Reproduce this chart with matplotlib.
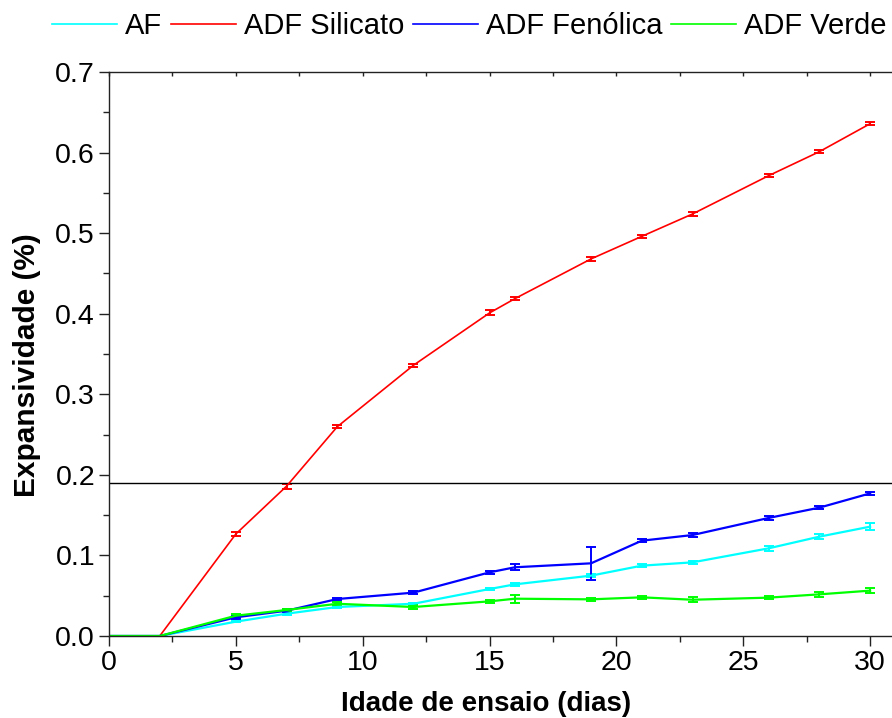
import matplotlib
matplotlib.use("Agg")
import matplotlib.pyplot as plt
from matplotlib.ticker import MultipleLocator
from matplotlib.lines import Line2D

plt.rcParams['font.family'] = ['Liberation Sans', 'DejaVu Sans']

dias = [0, 2, 5, 7, 9, 12, 15, 16, 19, 21, 23, 26, 28, 30]

af = [0, 0, 0.0178, 0.0277, 0.036, 0.040, 0.0583, 0.0641, 0.0749, 0.0873, 0.0914, 0.1088, 0.1233, 0.1357]
af_err = [0, 0, 0.001, 0.0015, 0.0015, 0.0015, 0.0015, 0.0015, 0.002, 0.0015, 0.002, 0.003, 0.003, 0.004]

silicato = [0, 0, 0.1266, 0.186, 0.2598, 0.336, 0.401, 0.4187, 0.468, 0.496, 0.5238, 0.5713, 0.6011, 0.6358]
silicato_err = [0, 0, 0.002, 0.003, 0.002, 0.002, 0.003, 0.002, 0.002, 0.002, 0.002, 0.002, 0.002, 0.002]

fenolica = [0, 0, 0.0232, 0.0314, 0.0459, 0.0538, 0.079, 0.0853, 0.0902, 0.1183, 0.1253, 0.1465, 0.1593, 0.177]
fenolica_err = [0, 0, 0.0015, 0.0015, 0.0015, 0.0015, 0.0015, 0.004, 0.0203, 0.0015, 0.002, 0.002, 0.002, 0.002]

verde = [0, 0, 0.0252, 0.0323, 0.040, 0.036, 0.043, 0.0463, 0.0455, 0.048, 0.045, 0.0476, 0.0517, 0.0563]
verde_err = [0, 0, 0.0015, 0.0015, 0.002, 0.003, 0.0015, 0.005, 0.0015, 0.0015, 0.003, 0.002, 0.003, 0.003]

limite = 0.19

series = [
    ("AF", af, af_err, "#00FFFF", 1.6),
    ("ADF Silicato", silicato, silicato_err, "#FF0000", 1.2),
    ("ADF Fenólica", fenolica, fenolica_err, "#0000FF", 1.6),
    ("ADF Verde", verde, verde_err, "#00FF00", 1.6),
]

fig = plt.figure(figsize=(8.92, 7.18), dpi=100)
ax = fig.add_axes([109/892, 82/718, 1 - 109/892, (636-72)/718])

for name, vals, errs, col, lw in series:
    ax.errorbar(dias, vals, yerr=errs, color=col, lw=lw, elinewidth=1.4,
                capsize=3.5, capthick=1.4, label=name)

ax.axhline(limite, color='black', lw=1.0)

ax.set_xlim(0, (892-109)/25.37)
ax.set_ylim(0, 0.7)
ax.xaxis.set_major_locator(MultipleLocator(5))
ax.xaxis.set_minor_locator(MultipleLocator(2.5))
ax.yaxis.set_major_locator(MultipleLocator(0.1))
ax.yaxis.set_minor_locator(MultipleLocator(0.05))
ax.yaxis.set_major_formatter(matplotlib.ticker.FuncFormatter(lambda v, p: f"{v:.1f}"))

ax.spines['right'].set_visible(False)
for s in ['left', 'bottom', 'top']:
    ax.spines[s].set_linewidth(1.0)
    ax.spines[s].set_color('#222222')

ax.tick_params(axis='both', which='major', direction='out', length=7, width=1.0,
               labelsize=20.5, color='#222222', pad=3)
ax.tick_params(axis='both', which='minor', direction='out', length=4, width=1.0, color='#222222')
ax.tick_params(right=False, top=False, which='both')

sec = ax.secondary_xaxis('top')
sec.xaxis.set_major_locator(MultipleLocator(2.5))
sec.tick_params(direction='in', length=3, width=1.0, labeltop=False, color='#222222')
sec.spines['top'].set_visible(False)

ax.set_xlabel("Idade de ensaio (dias)", fontsize=20, fontweight='bold')
ax.xaxis.set_label_coords((486-109)/(892-109), -(691-636)/564)
ax.set_ylabel("Expansividade (%)", fontsize=21.5, fontweight='bold')
ax.yaxis.set_label_coords(-(109-41)/(892-109), (636-365)/564)

leg_handles = [Line2D([0], [0], color=c, lw=1.2) for _, _, _, c, _ in series]
fig.legend(leg_handles, [s[0] for s in series], loc='center', ncol=4,
           bbox_to_anchor=(469/892, 1 - 26/718), frameon=False, fontsize=21,
           handlelength=2.25, handletextpad=0.25, columnspacing=0.3,
           borderaxespad=0, borderpad=0)

fig.savefig("out.png", dpi=100)
